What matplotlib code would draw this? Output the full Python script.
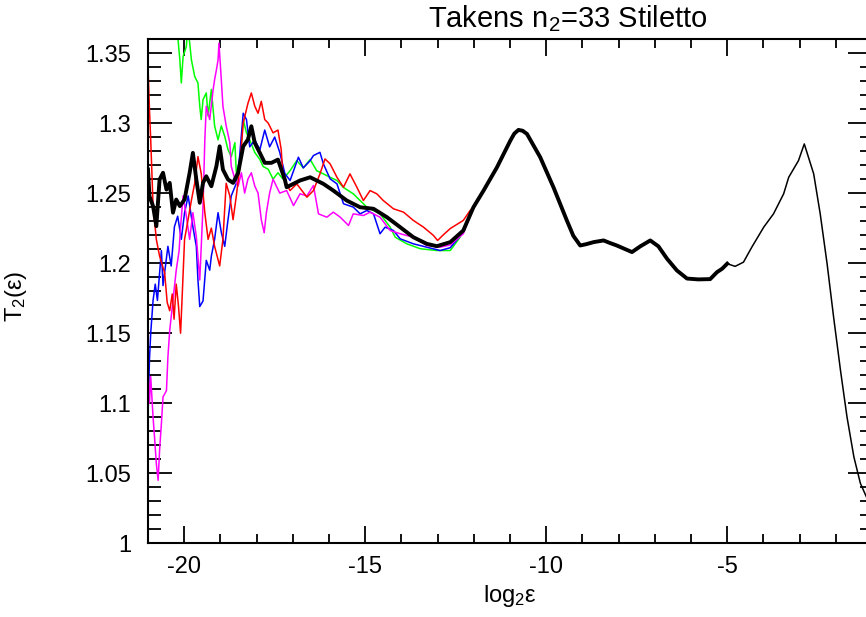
import numpy as np
import matplotlib.pyplot as plt
from matplotlib.ticker import MultipleLocator, FuncFormatter

plt.rcParams['font.family'] = ['Liberation Sans', 'DejaVu Sans']
plt.rcParams['mathtext.fontset'] = 'custom'
plt.rcParams['mathtext.rm'] = 'Liberation Sans'
plt.rcParams['mathtext.it'] = 'Liberation Sans'
plt.rcParams['axes.unicode_minus'] = False

# common part (all curves agree for log2 eps > -12)
x_trunk = [-12.01, -11.73, -11.36, -10.99, -10.88, -10.765, -10.65, -10.53, -10.165, -9.80,
           -9.43, -9.25, -9.06, -8.90, -8.69, -8.415, -8.23, -8.05, -7.80, -7.63,
           -7.40, -7.125, -6.90, -6.66, -6.39, -6.11, -5.80, -5.47, -5.28, -5.14, -5.0]
y_trunk = [1.2399, 1.2518, 1.2684, 1.2875, 1.2925, 1.2951, 1.2945, 1.2922, 1.2756, 1.2542,
           1.2305, 1.2195, 1.2126, 1.2135, 1.2150, 1.2162, 1.2143, 1.2126, 1.2098, 1.2079,
           1.2120, 1.2162, 1.2120, 1.2031, 1.1948, 1.1890, 1.1884, 1.1886, 1.1936, 1.1960, 1.1996]

# noisy small-eps parts
x_red = [-21.0, -20.96, -20.925, -20.86, -20.77, -20.68, -20.54, -20.47, -20.40, -20.33,
         -20.28, -20.22, -20.16, -20.10, -20.05, -19.99, -19.90, -19.80, -19.71, -19.62,
         -19.53, -19.43, -19.34, -19.25, -19.16, -19.02, -18.93, -18.84, -18.74, -18.65,
         -18.56, -18.47, -18.37, -18.24, -18.145, -18.05, -17.96, -17.87, -17.775, -17.68,
         -17.545, -17.41, -17.32, -17.27, -17.075, -16.89, -16.61, -16.43, -16.25, -16.11,
         -15.97, -15.78, -15.60, -15.42, -15.23, -15.05, -14.865, -14.68, -14.50, -14.22,
         -13.94, -13.67, -13.39, -13.115, -13.0, -12.85, -12.65, -12.29, -12.10]
y_red = [1.340, 1.310, 1.288, 1.241, 1.217, 1.205, 1.193, 1.172, 1.166, 1.178,
         1.160, 1.185, 1.170, 1.150, 1.180, 1.217, 1.230, 1.245, 1.257, 1.276,
         1.264, 1.236, 1.217, 1.225, 1.212, 1.198, 1.217, 1.257, 1.248, 1.231,
         1.248, 1.267, 1.300, 1.314, 1.3215, 1.312, 1.307, 1.3155, 1.3025, 1.300,
         1.293, 1.295, 1.281, 1.2613, 1.2518, 1.2566, 1.2471, 1.2518, 1.2637, 1.2744,
         1.2709, 1.2613, 1.2542, 1.2637, 1.2542, 1.2447, 1.2518, 1.2495, 1.2447, 1.2388,
         1.2364, 1.2305, 1.2257, 1.2198, 1.2162, 1.2200, 1.2247, 1.2305, 1.2376]

x_green = [-20.40, -20.17, -20.12, -20.08, -20.03, -19.94, -19.90, -19.80, -19.71, -19.62,
           -19.57, -19.53, -19.48, -19.39, -19.34, -19.25, -19.16, -19.065, -18.975, -18.88,
           -18.79, -18.70, -18.60, -18.56, -18.47, -18.37, -18.28, -18.19, -18.05, -17.91,
           -17.82, -17.68, -17.545, -17.41, -17.27, -17.075, -16.89, -16.71, -16.52, -16.34,
           -16.155, -15.97, -15.78, -15.60, -15.33, -15.14, -14.955, -14.59, -14.31, -14.17,
           -13.85, -13.48, -13.02, -12.65, -12.38, -12.10]
y_green = [1.420, 1.3595, 1.345, 1.3286, 1.3476, 1.3547, 1.370, 1.345, 1.3333, 1.3286,
           1.312, 1.3025, 1.3167, 1.3215, 1.305, 1.324, 1.298, 1.288, 1.298, 1.2905,
           1.281, 1.276, 1.286, 1.2645, 1.269, 1.3025, 1.293, 1.288, 1.279, 1.274,
           1.269, 1.267, 1.260, 1.2645, 1.260, 1.266, 1.2732, 1.268, 1.274, 1.266,
           1.2637, 1.2613, 1.259, 1.254, 1.2495, 1.2447, 1.240, 1.2352, 1.2257, 1.2185,
           1.2138, 1.2103, 1.209, 1.209, 1.2185, 1.235]

x_blue = [-21.0, -20.96, -20.925, -20.86, -20.80, -20.74, -20.63, -20.585, -20.45, -20.36,
          -20.27, -20.18, -20.08, -19.99, -19.89, -19.76, -19.665, -19.62, -19.57, -19.48,
          -19.39, -19.295, -19.25, -19.16, -19.065, -18.975, -18.88, -18.79, -18.70, -18.56,
          -18.47, -18.37, -18.28, -18.19, -18.05, -17.91, -17.775, -17.64, -17.50, -17.36,
          -17.22, -17.075, -16.845, -16.71, -16.52, -16.43, -16.25, -16.155, -15.97, -15.78,
          -15.60, -15.33, -15.14, -14.955, -14.77, -14.59, -14.45, -14.22, -14.035, -13.67,
          -13.30, -12.93, -12.65, -12.29]
y_blue = [1.090, 1.131, 1.150, 1.1734, 1.185, 1.1734, 1.209, 1.184, 1.212, 1.198,
          1.226, 1.2335, 1.217, 1.236, 1.248, 1.226, 1.212, 1.188, 1.169, 1.173,
          1.202, 1.195, 1.205, 1.217, 1.236, 1.222, 1.212, 1.231, 1.248, 1.257,
          1.276, 1.307, 1.3025, 1.283, 1.288, 1.281, 1.295, 1.283, 1.290, 1.279,
          1.264, 1.259, 1.2756, 1.268, 1.2732, 1.2768, 1.2791, 1.2709, 1.2602, 1.2566,
          1.2424, 1.240, 1.2352, 1.2376, 1.2352, 1.221, 1.2257, 1.2233, 1.2174, 1.2138,
          1.2114, 1.209, 1.211, 1.222]

x_mag = [-21.0, -20.96, -20.925, -20.86, -20.82, -20.77, -20.72, -20.68, -20.63, -20.585,
         -20.49, -20.45, -20.40, -20.31, -20.22, -20.14, -20.10, -20.03, -19.94, -19.85,
         -19.76, -19.665, -19.57, -19.48, -19.43, -19.39, -19.295, -19.20, -19.16, -19.11,
         -19.065, -19.04, -18.975, -18.93, -18.84, -18.74, -18.70, -18.60, -18.51, -18.42,
         -18.33, -18.24, -18.145, -18.05, -17.96, -17.87, -17.79, -17.73, -17.64, -17.545,
         -17.455, -17.36, -17.17, -16.98, -16.80, -16.61, -16.43, -16.29, -16.06, -15.88,
         -15.69, -15.46, -15.33, -15.05, -14.865, -14.59, -14.31, -14.035, -13.67, -13.30,
         -12.93, -12.65, -12.29]
y_mag = [1.125, 1.100, 1.119, 1.090, 1.076, 1.057, 1.045, 1.0665, 1.0855, 1.1045,
         1.109, 1.133, 1.152, 1.1734, 1.195, 1.209, 1.226, 1.248, 1.2335, 1.217,
         1.236, 1.219, 1.188, 1.2407, 1.288, 1.312, 1.3025, 1.324, 1.331, 1.338,
         1.345, 1.357, 1.331, 1.312, 1.298, 1.286, 1.269, 1.260, 1.255, 1.2645,
         1.250, 1.260, 1.2645, 1.255, 1.250, 1.231, 1.2217, 1.236, 1.250, 1.260,
         1.255, 1.250, 1.2518, 1.2411, 1.2495, 1.248, 1.2554, 1.2352, 1.2328, 1.2364,
         1.2328, 1.2269, 1.2352, 1.234, 1.2364, 1.2328, 1.2233, 1.221, 1.2185, 1.2126,
         1.2114, 1.213, 1.221]

x_avg = [-21.0, -20.96, -20.86, -20.77, -20.68, -20.585, -20.49, -20.40, -20.31, -20.22,
         -20.12, -19.99, -19.85, -19.76, -19.665, -19.57, -19.48, -19.39, -19.25, -19.11,
         -19.02, -18.93, -18.79, -18.65, -18.51, -18.37, -18.24, -18.145, -18.05, -17.91,
         -17.775, -17.59, -17.41, -17.22, -17.17, -16.80, -16.52, -16.155, -15.88, -15.51,
         -15.14, -14.77, -14.40, -14.035, -13.67, -13.30, -13.02, -12.65, -12.29]
y_avg = [1.2668, 1.2478, 1.2407, 1.2264, 1.2597, 1.2645, 1.2525, 1.2573, 1.2360, 1.2454,
         1.2407, 1.2454, 1.2645, 1.2787, 1.2597, 1.2431, 1.2573, 1.2620, 1.2549, 1.2692,
         1.2834, 1.2668, 1.2597, 1.2573, 1.2645, 1.2834, 1.2882, 1.2977, 1.2858, 1.2787,
         1.2716, 1.2716, 1.2739, 1.2597, 1.2542, 1.2590, 1.2613, 1.2566, 1.2518, 1.2447,
         1.2399, 1.2388, 1.2328, 1.2257, 1.2185, 1.2138, 1.2121, 1.2150, 1.2233]

# large-eps tail (single thin black curve)
x_tail = [-5.0, -4.78, -4.55, -4.32, -3.99, -3.72, -3.44, -3.30, -3.03, -2.87,
          -2.61, -2.43, -2.24, -2.06, -1.87, -1.69, -1.50, -1.32, -1.155, -1.0]
y_tail = [1.1996, 1.1977, 1.2007, 1.2114, 1.2257, 1.2352, 1.2495, 1.2613, 1.2732, 1.2851,
          1.2637, 1.2352, 1.1996, 1.1615, 1.1235, 1.0902, 1.0617, 1.0428, 1.0332, 1.027]

fig = plt.figure(figsize=(8.66, 6.17), dpi=100)
ax = fig.add_axes([0.1709, 0.1194, 0.8360, 0.8174])

series = [(x_green, y_green, '#00FF00'), (x_blue, y_blue, '#0000FF'),
          (x_mag, y_mag, '#FF00FF'), (x_red, y_red, '#FF0000')]
for xs, ys, c in series:
    ax.plot(xs + x_trunk, ys + y_trunk, color=c, lw=1.1)
ax.plot(x_avg + x_trunk, y_avg + y_trunk, color='black', lw=2.8)
ax.plot(x_tail, y_tail, color='black', lw=1.1)

ax.set_xlim(-21, -1)
ax.set_ylim(1, 1.36)
ax.xaxis.set_major_locator(MultipleLocator(5))
ax.xaxis.set_minor_locator(MultipleLocator(1))
ax.yaxis.set_major_locator(MultipleLocator(0.05))
ax.yaxis.set_minor_locator(MultipleLocator(0.01))
ax.yaxis.set_major_formatter(FuncFormatter(lambda v, p: '%g' % round(v, 2)))
ax.tick_params(axis='both', which='both', direction='in', top=True, right=True,
               labelsize=17, width=1.3, color='black')
ax.tick_params(axis='x', which='major', length=12, pad=9)
ax.tick_params(axis='x', which='minor', length=6.5)
ax.tick_params(axis='y', which='major', length=17, pad=12)
ax.tick_params(axis='y', which='minor', length=9)
for sp in ax.spines.values():
    sp.set_linewidth(1.5)

ax.set_xlabel('log$_2$ε', fontsize=17, labelpad=4)
ax.set_ylabel('T$_2$(ε)', fontsize=17)
ax.yaxis.set_label_coords(-0.165, 0.49)
fig.text(0.656, 0.956, 'Takens n$_2$=33 Stiletto', fontsize=21, ha='center', va='baseline')

fig.savefig('out.png', dpi=100)
